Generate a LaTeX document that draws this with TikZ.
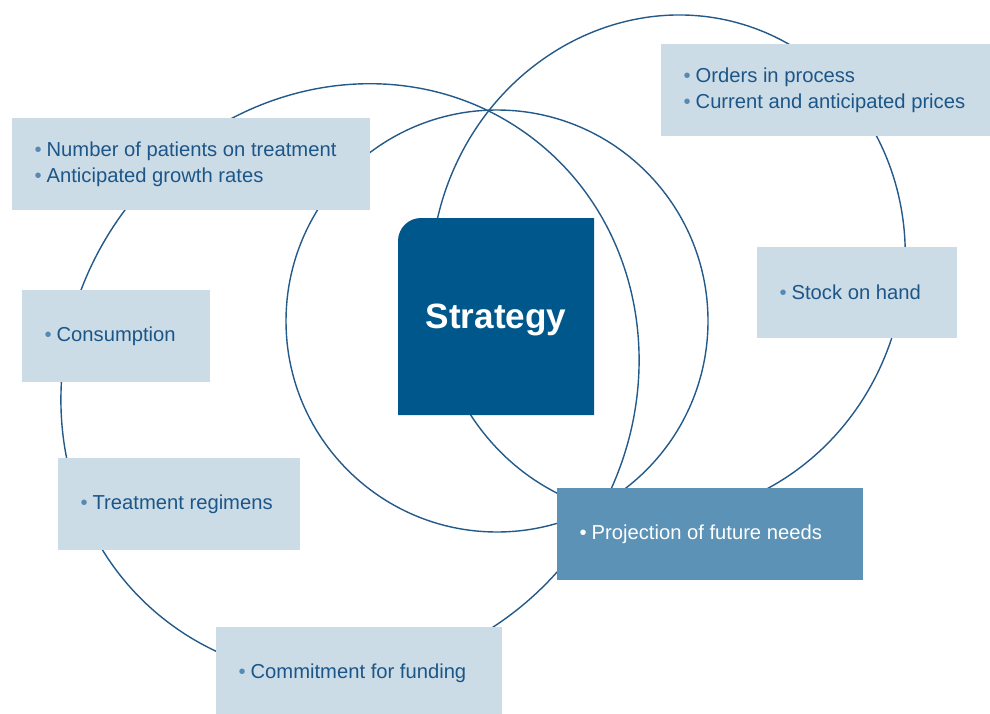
\documentclass[tikz,border=0pt]{standalone}
\usepackage{fontspec}
\setmainfont{Liberation Sans}
\usetikzlibrary{positioning}

\definecolor{ringblue}{RGB}{35,90,138}
\definecolor{textblue}{RGB}{28,86,136}
\definecolor{dotblue}{RGB}{84,138,180}
\definecolor{boxfill}{RGB}{204,220,230}
\definecolor{stratblue}{RGB}{0,87,140}
\definecolor{projfill}{RGB}{92,146,181}

\newcommand{\bul}{{\color{dotblue}\textbullet}\hspace{0.25em}}

\begin{document}
\begin{tikzpicture}[x=0.02cm, y=-0.02cm, line width=0.75pt,
    every node/.style={font=\fontsize{11.5}{14.7}\selectfont},
    ring/.style={draw=ringblue, line width=0.8pt},
    infobox/.style={fill=boxfill, inner sep=0pt},
    infotext/.style={inner sep=0pt, align=left, text=textblue}]
    \useasboundingbox (0,0) rectangle (990,713);

    %---- ring centres
    \coordinate (ringL) at (350,380);
    \coordinate (ringM) at (497,321);
    \coordinate (ringR) at (668,266);

    %---- rings (left, middle, right)
    \draw[ring, rotate around={55:(ringL)}] (ringL) ellipse[x radius=303, y radius=282];
    \draw[ring] (ringM) circle[radius=211];
    \draw[ring, rotate around={70:(ringR)}] (ringR) ellipse[x radius=253, y radius=235];

    %---- centre box
    \fill[stratblue] (398,415) -- (398,241)
      .. controls (398,228.3) and (408.3,218) .. (421,218)
      -- (594,218) -- (594,415) -- cycle;
    \node[anchor=base, text=white, font=\fontsize{20}{24}\selectfont\bfseries]
      (strategy) at (496,328) {Strategy};

    %---- left side boxes
    \node[infobox, minimum width=7.16cm, minimum height=1.84cm] (patients) at (191,164) {};
    \node[infotext, right=0.45cm of patients.west] (patientstxt)
      {\bul Number of patients on treatment\\\bul Anticipated growth rates};

    \node[infobox, minimum width=3.76cm, minimum height=1.84cm] (consumption) at (116,336) {};
    \node[infotext, right=0.45cm of consumption.west] (consumptiontxt) {\bul Consumption};

    \node[infobox, minimum width=4.84cm, minimum height=1.84cm] (regimens) at (179,504) {};
    \node[infotext, right=0.45cm of regimens.west] (regimenstxt) {\bul Treatment regimens};

    \node[infobox, minimum width=5.72cm, minimum height=1.84cm] (funding) at (359,673) {};
    \node[infotext, right=0.45cm of funding.west] (fundingtxt) {\bul Commitment for funding};

    %---- right side boxes
    \node[infobox, minimum width=6.58cm, minimum height=1.84cm] (orders) at (825.5,90) {};
    \node[infotext, right=0.45cm of orders.west] (orderstxt)
      {\bul Orders in process\\\bul Current and anticipated prices};

    \node[infobox, minimum width=4.0cm, minimum height=1.82cm] (stock) at (857,292.5) {};
    \node[infotext, right=0.45cm of stock.west] (stocktxt) {\bul Stock on hand};

    \node[infobox, fill=projfill, minimum width=6.12cm, minimum height=1.84cm] (needs) at (710,534) {};
    \node[infotext, text=white, right=0.45cm of needs.west] (needstxt)
      {\textbullet\hspace{0.25em}Projection of future needs};
\end{tikzpicture}
\end{document}
